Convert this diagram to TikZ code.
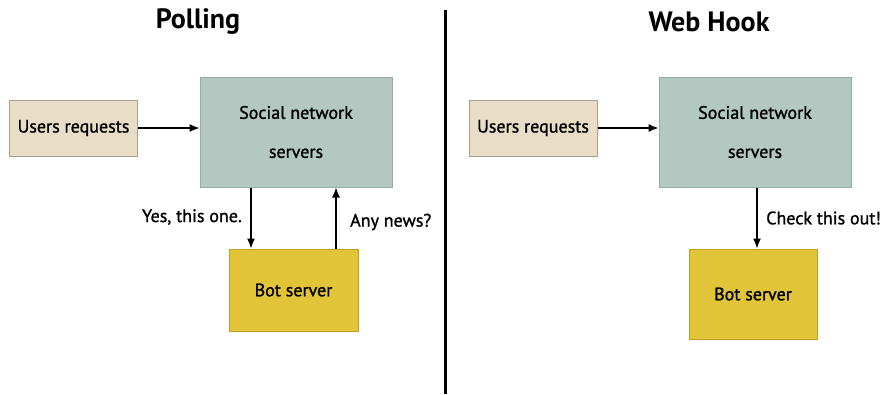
\documentclass[tikz,border=0pt]{standalone}
\usepackage{fontspec}
\setmainfont{PT Sans}
\newfontfamily\lblfont[FakeBold=1.2]{PT Sans}
\usetikzlibrary{arrows.meta}
\definecolor{userfill}{RGB}{232,222,200}
\definecolor{userline}{RGB}{170,160,140}
\definecolor{socfill}{RGB}{180,200,194}
\definecolor{socline}{RGB}{150,172,166}
\definecolor{botfill}{RGB}{226,196,56}
\definecolor{botline}{RGB}{190,160,40}
\tikzset{
  userbox/.style={draw=userline,fill=userfill,line width=1pt,minimum width=128pt,minimum height=56pt,inner sep=0pt,font=\lblfont\fontsize{18}{22}\selectfont},
  socbox/.style={draw=socline,fill=socfill,line width=1pt,minimum width=192pt,minimum height=110pt,inner sep=0pt,align=center,font=\lblfont\fontsize{18}{22}\selectfont},
  botbox/.style={draw=botline,fill=botfill,line width=1pt,minimum width=129pt,minimum height=82pt,inner sep=0pt,font=\lblfont\fontsize{18}{22}\selectfont},
  title/.style={font=\bfseries\fontsize{28}{32}\selectfont},
  lbl/.style={font=\lblfont\fontsize{18}{22}\selectfont,inner sep=0pt},
  arr/.style={-{Latex[length=10pt,width=8pt]},line width=1.3pt}
}
\begin{document}
\begin{tikzpicture}[x=1pt,y=-1pt]
    \useasboundingbox (0,0) rectangle (891,394);
    % Polling
    \node[title] (tpoll) at (198,22) {Polling};
    \node[userbox] (user1) at (73.5,128) {Users requests};
    \node[socbox] (soc1) at (296,132) {Social network\\[17pt]servers};
    \node[botbox] (bot1) at (293.5,290) {Bot server};
    \draw[arr] (user1) -- (soc1.west |- user1);
    \draw[arr] (soc1.south -| 251,0) -- (bot1.north -| 251,0);
    \draw[arr] (bot1.north -| 336,0) -- (soc1.south -| 336,0);
    \node[lbl,anchor=east] (yes) at (242,217) {Yes, this one.};
    \node[lbl,anchor=west] (news) at (350,222) {Any news?};
    % divider
    \coordinate (dtop) at (445,10);
    \coordinate (dbot) at (445,394);
    \draw[line width=3pt] (dtop) -- (dbot);
    % Web Hook
    \node[title] (thook) at (709,22) {Web Hook};
    \node[userbox] (user2) at (533,128) {Users requests};
    \node[socbox] (soc2) at (755,132) {Social network\\[17pt]servers};
    \node[botbox,minimum width=128pt,minimum height=90pt] (bot2) at (753,294) {Bot server};
    \draw[arr] (user2) -- (soc2.west |- user2);
    \draw[arr] (soc2.south -| 757,0) -- (bot2.north -| 757,0);
    \node[lbl,anchor=west] (check) at (766,218) {Check this out!};
\end{tikzpicture}
\end{document}
